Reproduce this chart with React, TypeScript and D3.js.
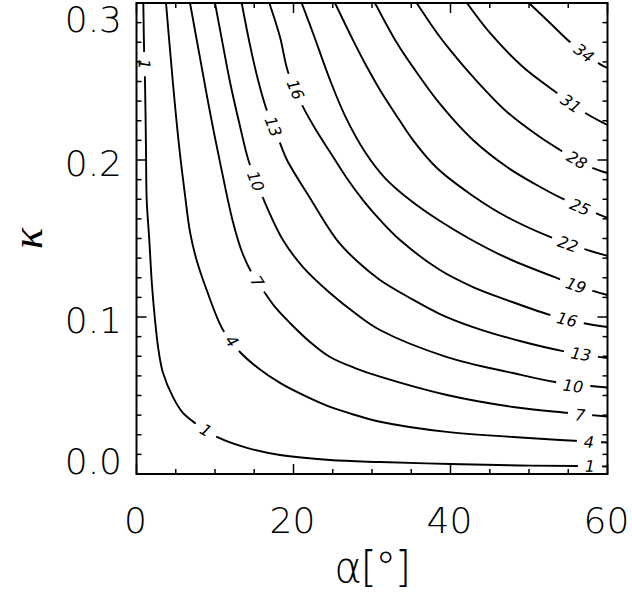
import React, { useEffect, useRef } from 'react';
import * as d3 from 'd3';

type Pt = [number, number];

// contour levels
const levels = [1, 4, 7, 10, 13, 16, 19, 22, 25, 28, 31, 34];

// contour lines: [alpha in deg, kappa]
const line1: Pt[] = [
  [0.87, 0.3], [0.99, 0.2637], [1.08, 0.251], [1.21, 0.2064], [1.3, 0.1745], [1.63, 0.149],
  [1.97, 0.1204], [2.36, 0.0981], [2.8, 0.079], [3.38, 0.0643], [4.65, 0.049], [5.92, 0.0389],
  [7.45, 0.0325], [10.25, 0.0236], [14.08, 0.0166], [18.28, 0.0121], [24.65, 0.0089],
  [31.02, 0.0076], [39.94, 0.0064], [48.85, 0.0054], [56.12, 0.0051], [60, 0.0048],
];
const line4: Pt[] = [
  [3.76, 0.3], [4.27, 0.2701], [4.84, 0.2382], [5.48, 0.2064], [6.18, 0.1777], [6.82, 0.1541],
  [7.58, 0.1376], [8.94, 0.1172], [11.02, 0.0917], [13.18, 0.0777], [15.48, 0.0675], [18.28, 0.058],
  [21.47, 0.0497], [24.65, 0.0427], [27.83, 0.0376], [31.02, 0.0333], [39.55, 0.0268], [47.96, 0.0236],
  [53.95, 0.0217], [60, 0.0201],
];
const line7: Pt[] = [
  [6.82, 0.3], [8.09, 0.265], [9.43, 0.2287], [10.89, 0.1924], [12.29, 0.1605], [13.44, 0.1414],
  [14.68, 0.128], [16.11, 0.1172], [17.64, 0.1064], [19.55, 0.0962], [22.1, 0.0841], [24.65, 0.0745],
  [27.83, 0.0675], [31.02, 0.062], [39.55, 0.0503], [47.96, 0.0427], [54.97, 0.0389], [60, 0.0366],
];
const line10: Pt[] = [
  [10.0, 0.3], [10.89, 0.2764], [11.91, 0.2497], [13.12, 0.2229], [14.33, 0.1987], [16.11, 0.1758],
  [18.66, 0.149], [21.21, 0.1318], [24.65, 0.1153], [27.83, 0.1025], [31.02, 0.0917], [39.55, 0.0745],
  [47.96, 0.0643], [53.31, 0.0586], [60, 0.0551],
];
const line13: Pt[] = [
  [13.4, 0.3], [14.46, 0.2732], [15.48, 0.251], [16.59, 0.2318], [18.28, 0.2108], [19.17, 0.2],
  [22.1, 0.1758], [25.54, 0.149], [28.22, 0.135], [31.02, 0.1236], [34.84, 0.1121], [38.66, 0.1019],
  [42.87, 0.0936], [48.85, 0.0847], [54.33, 0.0783], [60, 0.0739],
];
const line16: Pt[] = [
  [16.92, 0.3], [18.28, 0.2783], [19.3, 0.2561], [21.21, 0.2338], [22.87, 0.2191], [24.65, 0.2051],
  [26.69, 0.1892], [28.85, 0.1745], [31.02, 0.1618], [33.57, 0.149], [38.66, 0.1299], [42.87, 0.1191],
  [47.2, 0.1108], [52.68, 0.1013], [56.88, 0.0962], [60, 0.0936],
];
const line19: Pt[] = [
  [21.04, 0.3], [22.48, 0.2809], [24.65, 0.251], [26.69, 0.2268], [29.11, 0.2051], [31.66, 0.1885],
  [34.84, 0.1745], [38.66, 0.1611], [42.48, 0.1497], [47.2, 0.1376], [53.57, 0.1248], [58.15, 0.1166],
  [60, 0.114],
];
const line22: Pt[] = [
  [25.29, 0.3], [27.58, 0.2764], [29.36, 0.2592], [31.02, 0.2446], [33.06, 0.2287], [35.22, 0.2127],
  [38.28, 0.1949], [42.87, 0.1771], [47.2, 0.1637], [52.68, 0.151], [57.39, 0.1427], [60, 0.1389],
];
const line25: Pt[] = [
  [30.38, 0.3], [33.18, 0.2745], [35.48, 0.2573], [38.66, 0.2357], [42.87, 0.2127], [47.2, 0.1955],
  [50.76, 0.1847], [54.33, 0.1752], [59.04, 0.165], [60, 0.1631],
];
const line28: Pt[] = [
  [35.69, 0.3], [38.28, 0.2809], [39.94, 0.2701], [42.87, 0.2529], [47.2, 0.2306], [51.4, 0.2146],
  [53.95, 0.2064], [56.12, 0.2], [58.15, 0.1949], [60, 0.1917],
];
const line31: Pt[] = [
  [42.1, 0.3], [45.03, 0.2809], [49.24, 0.2592], [53.57, 0.2427], [57.39, 0.2293], [60, 0.2223],
];
const line34: Pt[] = [
  [50.0, 0.3], [52.68, 0.2873], [55.22, 0.2752], [59.04, 0.2611], [60, 0.2586],
];
const contourLines = [line1, line4, line7, line10, line13, line16, line19, line22, line25, line28, line31, line34];

// where the level labels sit: [level, alpha, kappa]
const labels: [number, number, number][] = [
  [1, 1.01, 0.2611], [1, 8.85, 0.028], [1, 57.77, 0.0051],
  [4, 12.17, 0.0847], [4, 57.64, 0.0204],
  [7, 15.39, 0.1226], [7, 56.5, 0.0376],
  [10, 15.2, 0.1865], [10, 55.61, 0.0561],
  [13, 17.43, 0.2213], [13, 56.62, 0.0764],
  [16, 20.25, 0.2449], [16, 54.84, 0.0984],
  [19, 55.99, 0.1201],
  [22, 54.97, 0.1465],
  [25, 56.5, 0.1701],
  [28, 56.12, 0.2],
  [31, 55.35, 0.236],
  [34, 57.01, 0.2682],
];

const xTicks = [0, 20, 40, 60];
const yTicks = [0, 0.1, 0.2, 0.3];
const yTickLabels = ['0.0', '0.1', '0.2', '0.3'];
const xMinorStep = 5;
const yMinorStep = 0.0125;

const W = 632;
const H = 592;
const margin = { top: 3, right: 24.5, bottom: 118, left: 136.5 };
const width = W - margin.left - margin.right;
const height = H - margin.top - margin.bottom;

const App = () => {
  const ref = useRef<SVGSVGElement>(null);

  useEffect(() => {
    const svg = d3.select(ref.current);
    svg.selectAll('*').remove();

    const x = d3.scaleLinear().domain([0, 60]).range([0, width]);
    const y = d3.scaleLinear().domain([0, 0.3]).range([height, 0]);

    svg.append('defs').append('clipPath').attr('id', 'plot-clip')
      .append('rect').attr('width', width).attr('height', height);

    const g = svg.append('g').attr('transform', `translate(${margin.left},${margin.top})`);

    // contour lines
    const line = d3.line<Pt>().x(d => x(d[0])).y(d => y(d[1])).curve(d3.curveCatmullRom.alpha(0.5));
    const cg = g.append('g').attr('clip-path', 'url(#plot-clip)');
    contourLines.forEach(pts => {
      cg.append('path')
        .attr('d', line(pts))
        .attr('fill', 'none')
        .attr('stroke', '#000')
        .attr('stroke-width', 1.9);
    });

    // labels, rotated along the line, with a white gap under them
    labels.forEach(([lv, a, k]) => {
      const pts = contourLines[levels.indexOf(lv)].map(d => [x(d[0]), y(d[1])]);
      const px = x(a);
      const py = y(k);
      let best = Infinity;
      let ang = 0;
      for (let j = 0; j < pts.length - 1; j++) {
        const [x1, y1] = pts[j];
        const [x2, y2] = pts[j + 1];
        const dx = x2 - x1, dy = y2 - y1;
        const t = Math.max(0, Math.min(1, ((px - x1) * dx + (py - y1) * dy) / (dx * dx + dy * dy)));
        const dist = Math.hypot(x1 + t * dx - px, y1 + t * dy - py);
        if (dist < best) {
          best = dist;
          ang = Math.atan2(dy, dx) * 180 / Math.PI;
        }
      }
      const lg = cg.append('g').attr('transform', `translate(${px},${py}) rotate(${ang})`);
      const rect = lg.append('rect').attr('fill', '#fff');
      const txt = lg.append('text')
        .attr('text-anchor', 'middle')
        .attr('dy', '0.36em')
        .style('font-family', '"DejaVu Sans", sans-serif')
        .style('font-weight', 200)
        .style('font-style', 'italic')
        .style('font-size', '16px')
        .text(lv);
      const w = (txt.node() as SVGTextElement).getComputedTextLength();
      rect.attr('x', -w / 2 - 7).attr('y', -7).attr('width', w + 14).attr('height', 14);
    });

    // ticks on all four sides
    const tickStroke = 1.5;
    d3.range(0, 60 + 1e-6, xMinorStep).forEach(v => {
      const major = xTicks.includes(v);
      const len = major ? 10 : 5;
      g.append('line').attr('x1', x(v)).attr('x2', x(v)).attr('y1', height).attr('y2', height - len)
        .attr('stroke', '#000').attr('stroke-width', tickStroke);
      g.append('line').attr('x1', x(v)).attr('x2', x(v)).attr('y1', 0).attr('y2', len)
        .attr('stroke', '#000').attr('stroke-width', tickStroke);
    });
    d3.range(0, 0.3 + 1e-6, yMinorStep).forEach((v, i) => {
      const major = i % 8 === 0;
      const len = major ? 10 : 5;
      g.append('line').attr('x1', 0).attr('x2', len).attr('y1', y(v)).attr('y2', y(v))
        .attr('stroke', '#000').attr('stroke-width', tickStroke);
      g.append('line').attr('x1', width).attr('x2', width - len).attr('y1', y(v)).attr('y2', y(v))
        .attr('stroke', '#000').attr('stroke-width', tickStroke);
    });

    // frame
    g.append('rect').attr('width', width).attr('height', height)
      .attr('fill', 'none').attr('stroke', '#000').attr('stroke-width', 2);

    // tick labels
    const fs = 36;
    const tickFont = '"DejaVu Sans", sans-serif';
    yTicks.forEach((v, i) => {
      const cy = Math.max(16, Math.min(height - 13, y(v) + 2.5));
      g.append('text')
        .attr('x', -14.5)
        .attr('y', cy + 0.3645 * fs)
        .attr('text-anchor', 'end')
        .style('font-family', tickFont)
        .style('font-weight', 200)
        .style('font-size', `${fs}px`)
        .text(yTickLabels[i]);
    });
    xTicks.forEach(v => {
      g.append('text')
        .attr('x', x(v) - 1)
        .attr('y', height + 59)
        .attr('text-anchor', 'middle')
        .style('font-family', tickFont)
        .style('font-weight', 200)
        .style('font-size', `${fs}px`)
        .text(v);
    });

    // axis titles
    g.append('text')
      .attr('x', width / 2)
      .attr('y', height + 108)
      .attr('text-anchor', 'middle')
      .style('font-family', tickFont)
      .style('font-weight', 200)
      .style('font-size', '42px')
      .style('letter-spacing', '-1.5px')
      .text('α[°]');
    g.append('text')
      .attr('transform', `translate(${42 - margin.left},${height / 2}) rotate(-90)`)
      .attr('text-anchor', 'middle')
      .style('font-family', '"Liberation Serif", serif')
      .style('font-style', 'italic')
      .style('font-size', '44px')
      .text('κ');
  }, []);

  return (
    <svg
      ref={ref}
      width={W}
      height={H}
      style={{ position: 'absolute', left: 0, top: 0, background: '#fff', display: 'block' }}
    />
  );
};

export default App;
